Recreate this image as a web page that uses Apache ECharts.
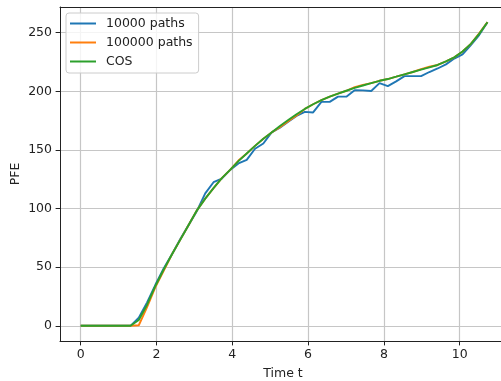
<!DOCTYPE html>
<html>
<head>
<meta charset="utf-8">
<script src="https://cdn.jsdelivr.net/npm/echarts@6/dist/echarts.min.js"></script>
<style>html,body{margin:0;padding:0;background:#fff;}#chart{width:501px;height:381px;}</style>
</head>
<body>
<div id="chart"></div>
<script>
const times = [0, 0.219, 0.438, 0.657, 0.876, 1.095, 1.314, 1.533, 1.752, 1.971,
  2.190, 2.409, 2.629, 2.848, 3.067, 3.286, 3.505, 3.724, 3.943, 4.162,
  4.381, 4.600, 4.819, 5.038, 5.257, 5.476, 5.695, 5.914, 6.133, 6.352,
  6.571, 6.790, 7.009, 7.228, 7.447, 7.666, 7.885, 8.104, 8.324, 8.543,
  8.762, 8.981, 9.200, 9.419, 9.638, 9.857, 10.076, 10.295, 10.514, 10.733];
const pfe10000 = [0, 0, 0, 0, 0, 0, 0, 7, 20, 35,
  49, 61, 74, 86, 98, 113, 122.5, 125.5, 133, 138.5,
  141.5, 151, 155.5, 165, 169, 174, 179, 182.5, 182, 191,
  191, 195.5, 195.5, 201, 200.8, 200.3, 207, 204.5, 208.5, 213,
  213, 213, 216.5, 219.5, 223, 228, 231.5, 239.5, 248, 259];
const pfe100000 = [0, 0, 0, 0, 0, 0, 0, 0.5, 16, 33,
  47, 61, 73.5, 86, 98.5, 108.5, 117.5, 126, 133, 141,
  147, 153.5, 159.5, 165, 169.5, 174.5, 179.5, 185, 189, 192.5,
  195.5, 198, 200.5, 203.5, 205.5, 207, 209, 210.5, 212.5, 214.5,
  216.5, 219, 221, 222.5, 225.5, 229, 234, 240.5, 249.5, 259];
const pfeCos = [0, 0, 0, 0, 0, 0, 0, 5, 18, 34,
  48, 61, 73.5, 86, 98.5, 108.5, 117.5, 126, 133, 140.5,
  147, 153.5, 159.5, 165, 170.5, 175.5, 180.5, 185, 189, 192.5,
  195.5, 198, 200.5, 203, 205, 207, 209, 210.5, 212.5, 214.5,
  216.5, 218.5, 220.5, 222.5, 225.5, 229, 234, 240.5, 249, 259];
const seriesNames = ['10000 paths', '100000 paths', 'COS'];
const xTicks = [0, 2, 4, 6, 8, 10];
const yTicks = [0, 50, 100, 150, 200, 250];

const colors = ['#1f77b4', '#ff7f0e', '#2ca02c'];
const font = 'DejaVu Sans';
const pair = (vals) => times.map((t, i) => [t, vals[i]]);
const xMin = -0.546, xMax = 11.222, yMin = -12.95, yMax = 271.95;

const chart = echarts.init(document.getElementById('chart'), null, {renderer: 'canvas'});
const lineSeries = (name, vals, color, z) => ({
  name: name, type: 'line', data: pair(vals), showSymbol: false, symbol: 'none',
  lineStyle: {color: color, width: 1.9}, itemStyle: {color: color}, z: z, animation: false
});
const gridLine = {show: true, lineStyle: {color: '#c6c6c6', width: 1.2}};
chart.setOption({
  animation: false,
  backgroundColor: '#fff',
  grid: {left: 60, top: 7, width: 446, height: 334, containLabel: false, outerBoundsMode: 'none'},
  legend: {
    orient: 'vertical', left: 66, top: 13,
    data: seriesNames,
    icon: 'rect', itemWidth: 26, itemHeight: 2, itemGap: 4,
    padding: [3, 6, 4, 4],
    backgroundColor: 'rgba(255,255,255,0.8)', borderColor: '#cccccc', borderWidth: 1, borderRadius: 3,
    textStyle: {fontFamily: font, fontSize: 12.5, color: '#222', lineHeight: 15, padding: [0, 0, 0, 5]}
  },
  xAxis: [{
    type: 'value', min: xMin, max: xMax, position: 'bottom',
    name: 'Time t', nameLocation: 'middle', nameGap: 26,
    nameTextStyle: {fontFamily: font, fontSize: 12.5, color: '#222'},
    axisLine: {show: true, onZero: false, lineStyle: {color: '#222', width: 1}},
    axisTick: {show: true, inside: false, length: 4.4, customValues: xTicks, lineStyle: {color: '#222', width: 1}},
    axisLabel: {show: true, customValues: xTicks, margin: 7, fontFamily: font, fontSize: 12.5, color: '#222'},
    splitLine: gridLine
  }, {
    type: 'value', min: xMin, max: xMax, position: 'top',
    axisLine: {show: true, onZero: false, lineStyle: {color: '#222', width: 1}},
    axisTick: {show: false}, axisLabel: {show: false}, splitLine: {show: false}
  }],
  yAxis: {
    type: 'value', min: yMin, max: yMax, position: 'left',
    name: 'PFE', nameLocation: 'middle', nameGap: 38, nameRotate: 90, nameMoveOverlap: false,
    nameTextStyle: {fontFamily: font, fontSize: 12.5, color: '#222'},
    axisLine: {show: true, onZero: false, lineStyle: {color: '#222', width: 1}},
    axisTick: {show: true, inside: false, length: 4.4, customValues: yTicks, lineStyle: {color: '#222', width: 1}},
    axisLabel: {show: true, customValues: yTicks, margin: 8, fontFamily: font, fontSize: 12.5, color: '#222'},
    splitLine: gridLine
  },
  series: [
    lineSeries(seriesNames[0], pfe10000, colors[0], 3),
    lineSeries(seriesNames[1], pfe100000, colors[1], 4),
    lineSeries(seriesNames[2], pfeCos, colors[2], 5)
  ]
});
</script>
</body>
</html>
